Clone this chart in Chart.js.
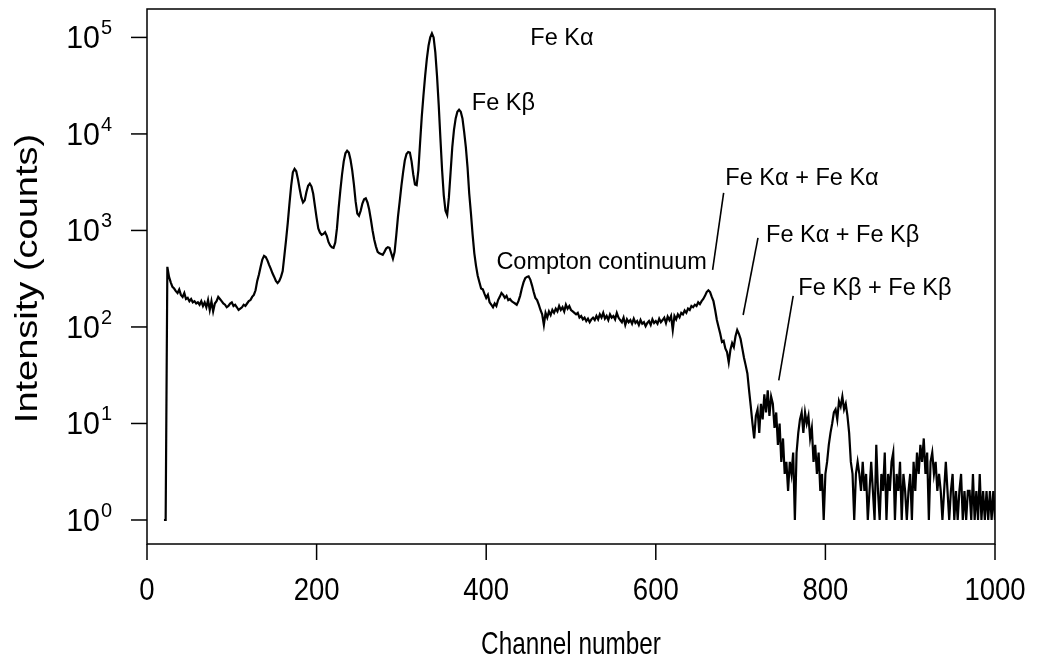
<!DOCTYPE html>
<html>
<head>
<meta charset="utf-8">
<script src="https://cdn.jsdelivr.net/npm/chart.js@4.4.0/dist/chart.umd.min.js"></script>
<style>
  html, body { margin: 0; padding: 0; background: #fff; }
  #wrap { width: 1038px; height: 670px; position: relative; }
</style>
</head>
<body>
<div id="wrap"><canvas id="spectrumChart"></canvas></div>
<script>
// Spectrum: one value every 2 channels, starting at channel 20
const firstChannel = 20;
const channelStep = 2;
const counts = [
  1, 1, 420, 330, 290, 260, 250, 235, 225, 245, 215, 205, 225, 195, 200, 185, 195, 180, 185, 175,
  180, 170, 185, 165, 180, 160, 190, 150, 185, 145, 175, 185, 205, 195, 185, 175, 170, 160, 165, 175,
  180, 165, 170, 160, 150, 155, 160, 170, 165, 175, 185, 190, 205, 215, 240, 300, 350, 420, 500, 545,
  530, 490, 440, 400, 360, 330, 300, 285, 300, 330, 380, 550, 800, 1200, 1900, 2900, 4000, 4350, 4100, 3400,
  2700, 2200, 1950, 2050, 2500, 2900, 3050, 2850, 2400, 1800, 1350, 1050, 950, 900, 920, 960, 880, 760, 700, 670,
  660, 750, 1050, 1700, 2600, 3800, 5200, 6300, 6700, 6400, 5400, 4200, 3000, 2000, 1500, 1420, 1600, 1900, 2100, 2150,
  1950, 1650, 1300, 1000, 800, 680, 600, 580, 570, 560, 600, 650, 670, 660, 580, 510, 600, 900, 1400, 2000,
  2900, 4000, 5300, 6200, 6500, 6400, 5200, 3800, 3000, 2950, 4200, 8000, 15000, 25000, 40000, 60000, 82000, 100000, 110000, 100000,
  70000, 40000, 20000, 9000, 4200, 2300, 1600, 1450, 2200, 4000, 7300, 11000, 14500, 17000, 17800, 17000, 14500, 10500, 7300, 4500,
  2400, 1500, 900, 580, 430, 340, 290, 250, 245, 220, 200, 215, 180, 170, 160, 175, 165, 190, 205, 225,
  215, 200, 210, 190, 195, 185, 180, 175, 170, 185, 210, 250, 290, 320, 330, 335, 310, 270, 230, 200,
  190, 170, 150, 135, 105, 140, 125, 145, 133, 150, 140, 155, 145, 165, 150, 160, 145, 170, 155, 165,
  150, 145, 140, 135, 140, 125, 130, 120, 125, 115, 122, 112, 120, 125, 118, 130, 120, 135, 125, 140,
  122, 130, 118, 135, 125, 130, 120, 140, 125, 118, 112, 125, 105, 120, 112, 118, 108, 122, 110, 115,
  105, 118, 108, 112, 102, 110, 115, 105, 120, 110, 115, 108, 122, 112, 118, 125, 110, 128, 118, 130,
  93, 130, 120, 135, 126, 140, 135, 148, 140, 155, 150, 165, 160, 170, 165, 180, 172, 185, 195, 210,
  230, 240, 230, 205, 185, 150, 118, 100, 85, 70, 72, 60, 55, 43, 58, 68, 62, 80, 93, 85,
  75, 60, 48, 40, 33, 22, 15, 10, 7, 12, 14, 8, 16, 11, 20, 13, 22, 12, 19, 16,
  9, 13, 6, 10, 4, 7, 3, 4, 2, 4, 3, 5, 1, 5, 8, 11, 13, 8, 13, 10,
  12, 7, 9, 4, 6, 3, 5, 2, 3, 1, 3, 4, 6, 8, 10, 13, 14, 11, 17, 15,
  19, 14, 16, 12, 8, 4, 3, 1, 3, 4, 3, 2, 4, 2, 3, 1, 2, 4, 2, 1,
  6, 2, 1, 3, 2, 5, 1, 3, 2, 4, 5, 1, 3, 2, 4, 1, 3, 2, 1, 2,
  3, 1, 4, 2, 5, 3, 6, 4, 7, 3, 5, 1, 4, 5, 3, 4, 2, 3, 2, 1,
  2, 4, 2, 1, 2, 3, 1, 2, 1, 2, 3, 1, 2, 1, 2, 2, 1, 3, 1, 2,
  1, 3, 1, 2, 1, 2, 1, 2, 1, 2, 1
];

const xTicks = [0, 200, 400, 600, 800, 1000];
const yExponents = [0, 1, 2, 3, 4, 5];
const xTitle = 'Channel number';
const yTitle = 'Intensity (counts)';

// labels placed in data coordinates (channel, counts)
const peakLabels = [
  { text: 'Fe K\u03b1', ch: 452, val: 98900 },
  { text: 'Fe K\u03b2', ch: 383, val: 20500 },
  { text: 'Compton continuum', ch: 412, val: 472 },
  { text: 'Fe K\u03b1 + Fe K\u03b1', ch: 682, val: 3500 },
  { text: 'Fe K\u03b1 + Fe K\u03b2', ch: 730, val: 898 },
  { text: 'Fe K\u03b2 + Fe K\u03b2', ch: 768, val: 254 }
];
const leaderLines = [
  { ch1: 680, v1: 2450, ch2: 667, v2: 390 },
  { ch1: 720.5, v1: 836, ch2: 703, v2: 133 },
  { ch1: 762, v1: 210, ch2: 745, v2: 28 }
];

const points = counts.map((c, i) => ({ x: firstChannel + i * channelStep, y: c }));

const FONT = '"Liberation Sans", Arial, sans-serif';

function drawText(ctx, text, x, y, size, align, baseline, sx) {
  ctx.save();
  ctx.translate(x, y);
  ctx.scale(sx, 1);
  ctx.font = size + 'px ' + FONT;
  ctx.textAlign = align;
  ctx.textBaseline = baseline;
  ctx.fillText(text, 0, 0);
  ctx.restore();
}

// frame, tick marks, tick labels, axis titles and annotations
const frameAndLabels = {
  id: 'frameAndLabels',
  afterDatasetsDraw(chart) {
    const { ctx, chartArea: a, scales } = chart;
    const xs = scales.x, ys = scales.y;
    ctx.save();
    ctx.strokeStyle = '#000';
    ctx.fillStyle = '#000';
    ctx.lineWidth = 1.5;
    ctx.strokeRect(a.left, a.top, a.right - a.left, a.bottom - a.top);

    // x ticks
    xTicks.forEach(t => {
      const px = xs.getPixelForValue(t);
      ctx.beginPath();
      ctx.moveTo(px, a.bottom);
      ctx.lineTo(px, a.bottom + 16);
      ctx.stroke();
      drawText(ctx, String(t), px, a.bottom + 47, 32, 'center', 'middle', 0.86);
    });
    drawText(ctx, xTitle, (a.left + a.right) / 2, a.bottom + 101, 32, 'center', 'middle', 0.76);

    // y ticks
    yExponents.forEach(e => {
      const py = ys.getPixelForValue(Math.pow(10, e));
      ctx.beginPath();
      ctx.moveTo(a.left, py);
      ctx.lineTo(a.left - 16, py);
      ctx.stroke();
      drawText(ctx, '10', a.left - 47, py + 2, 32, 'right', 'middle', 0.95);
      drawText(ctx, String(e), a.left - 46, py - 3, 21, 'left', 'alphabetic', 0.95);
    });

    // y title, rotated
    ctx.save();
    ctx.translate(28, (a.top + a.bottom) / 2 + 2);
    ctx.rotate(-Math.PI / 2);
    ctx.scale(1, 0.82);
    ctx.font = '38px ' + FONT;
    ctx.textAlign = 'center';
    ctx.textBaseline = 'middle';
    ctx.fillText(yTitle, 0, 0);
    ctx.restore();

    // annotations
    peakLabels.forEach(l => {
      drawText(ctx, l.text, xs.getPixelForValue(l.ch), ys.getPixelForValue(l.val), 24, 'left', 'middle', 0.98);
    });
    ctx.lineWidth = 1.6;
    leaderLines.forEach(l => {
      ctx.beginPath();
      ctx.moveTo(xs.getPixelForValue(l.ch1), ys.getPixelForValue(l.v1));
      ctx.lineTo(xs.getPixelForValue(l.ch2), ys.getPixelForValue(l.v2));
      ctx.stroke();
    });
    ctx.restore();
  }
};

new Chart(document.getElementById('spectrumChart'), {
  type: 'line',
  data: {
    datasets: [{
      data: points,
      borderColor: '#000',
      borderWidth: 2.2,
      pointRadius: 0,
      tension: 0,
      fill: false
    }]
  },
  options: {
    responsive: true,
    maintainAspectRatio: false,
    animation: false,
    layout: { padding: { left: 147, right: 43, top: 9, bottom: 126 } },
    plugins: { legend: { display: false }, tooltip: { enabled: false } },
    scales: {
      x: { type: 'linear', min: 0, max: 1000, display: false },
      y: { type: 'logarithmic', min: 0.564, max: 197000, display: false }
    }
  },
  plugins: [frameAndLabels]
});
</script>
</body>
</html>
